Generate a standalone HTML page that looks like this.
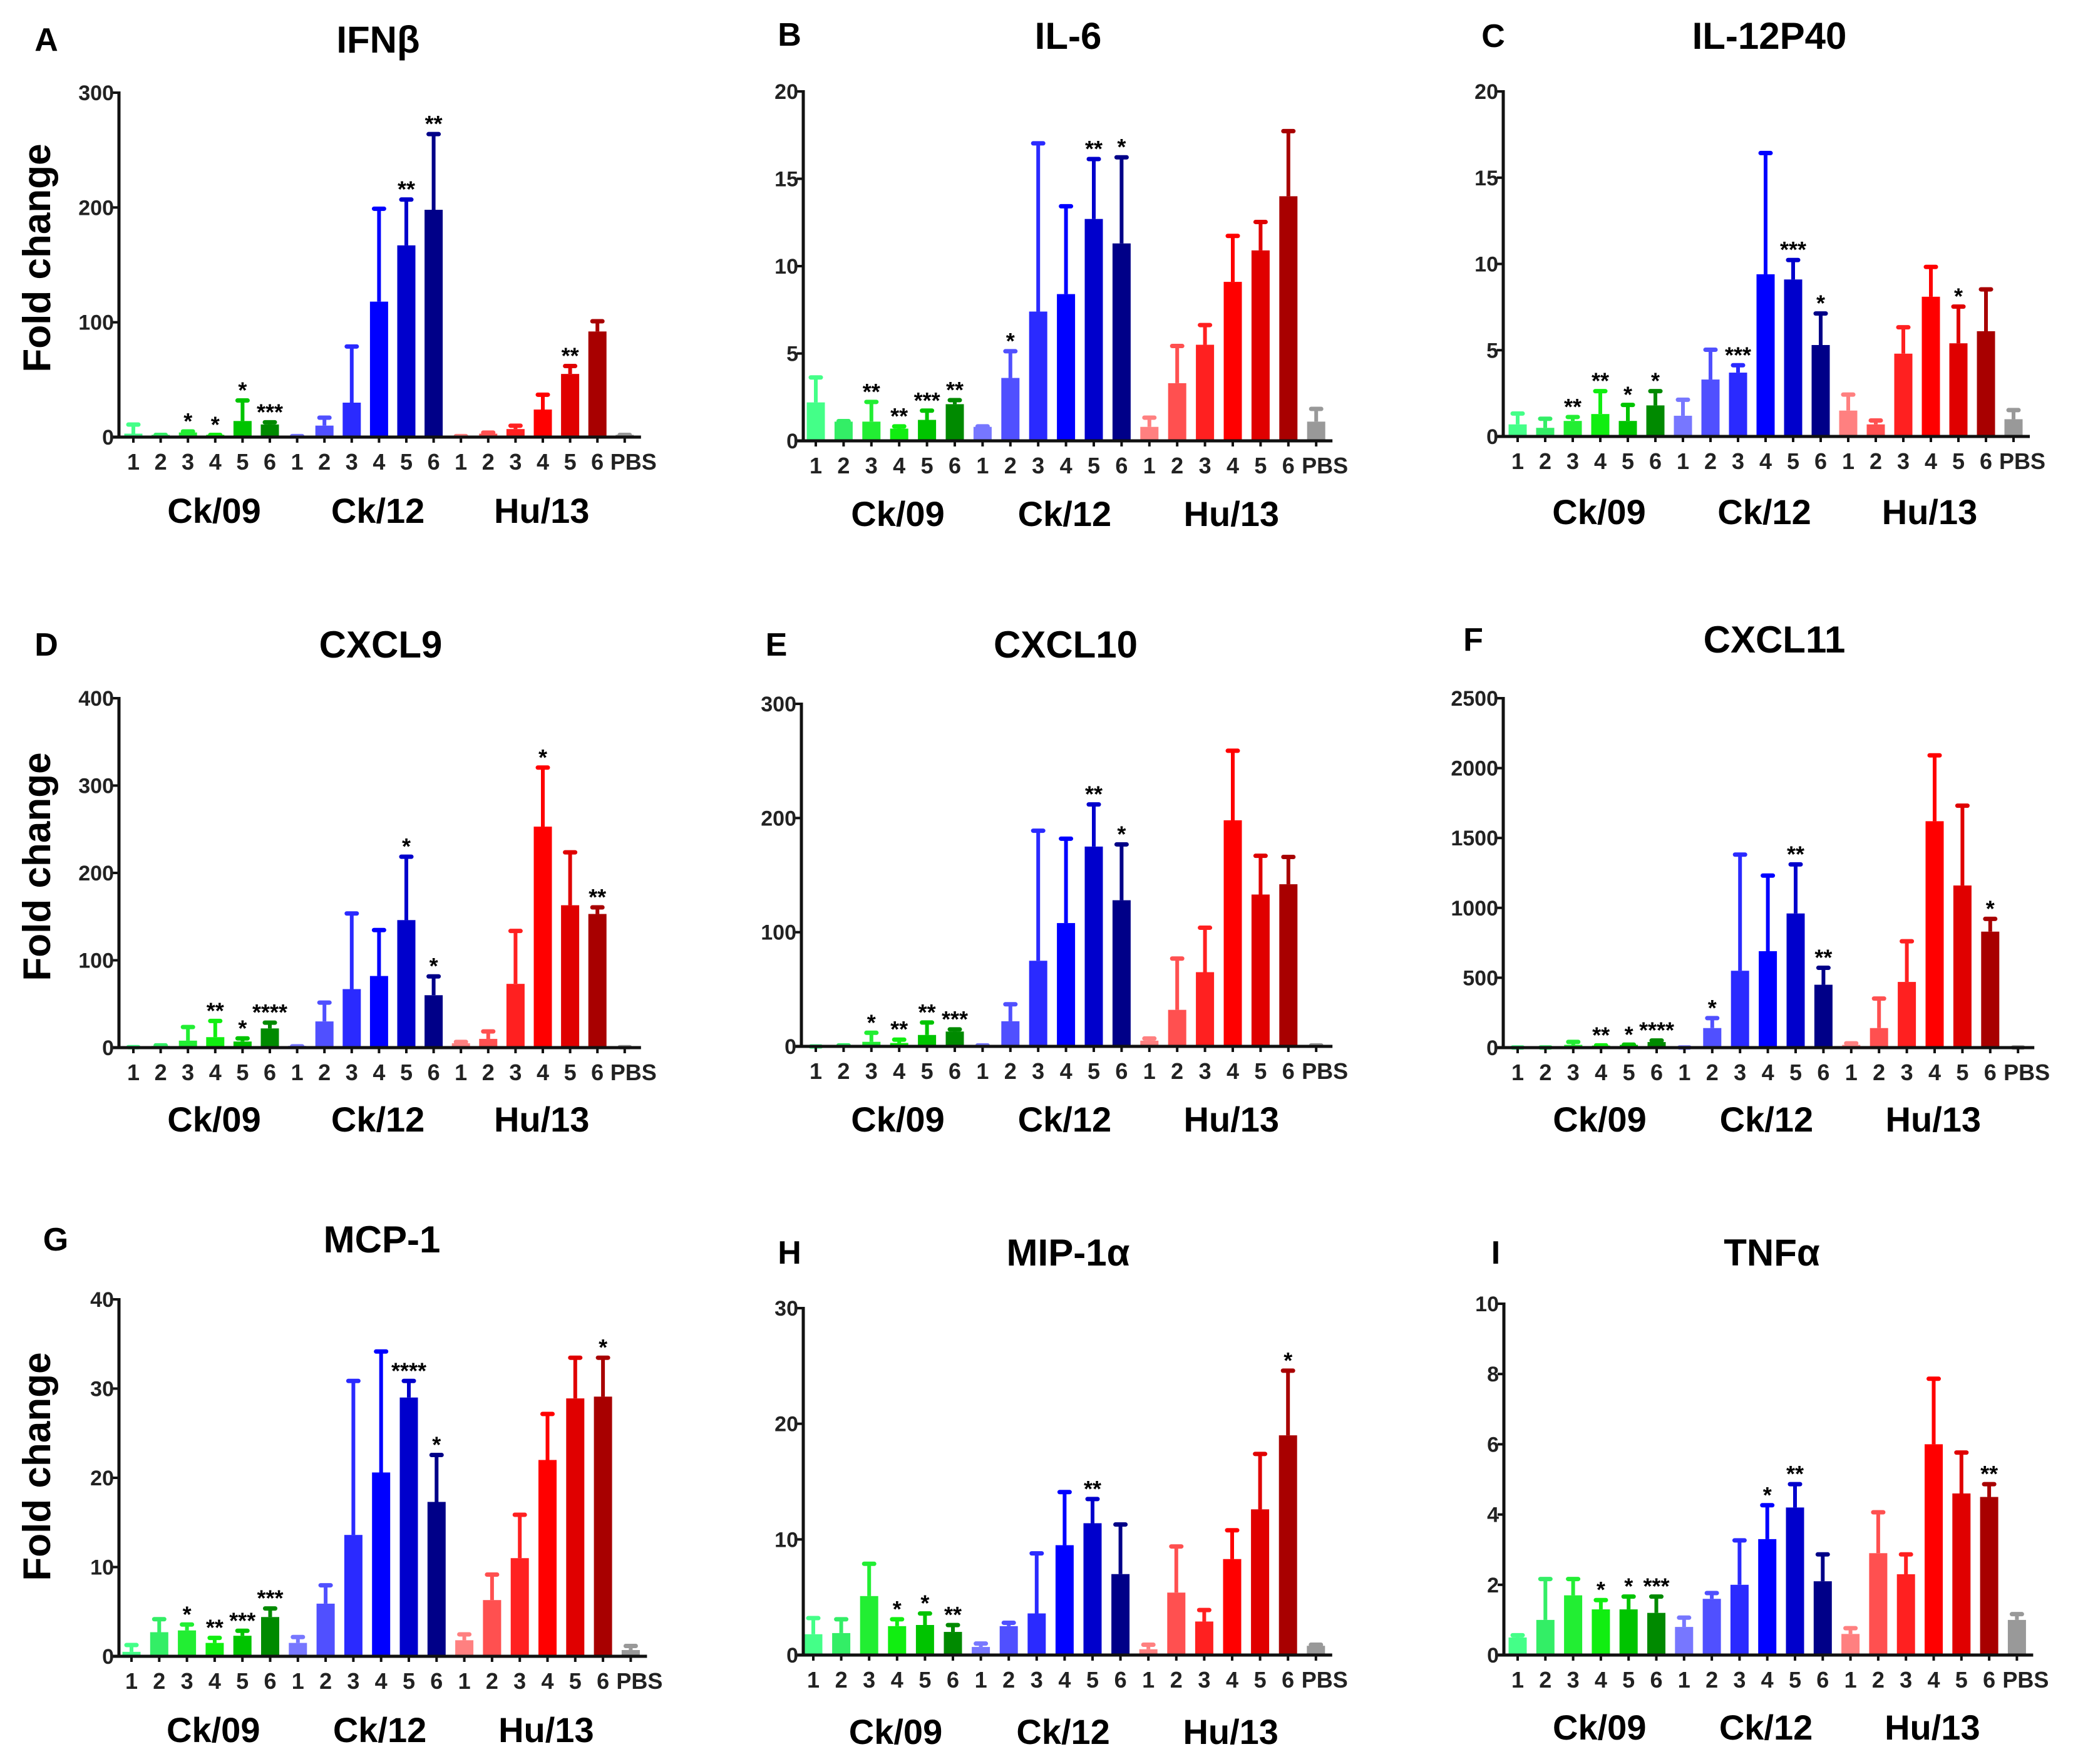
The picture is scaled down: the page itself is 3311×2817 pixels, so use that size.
<!DOCTYPE html>
<html><head><meta charset="utf-8">
<style>
html,body{margin:0;padding:0;background:#fff;}
svg{display:block;font-family:"Liberation Sans",Arial,sans-serif;font-weight:bold;}
</style></head>
<body>
<svg id="fig" width="3311" height="2817" viewBox="0 0 3311 2817" xmlns="http://www.w3.org/2000/svg"></svg>
<script>
// ---- data (19 slots: Ck/09 1-6, Ck/12 1-6, Hu/13 1-6, PBS) ----
const slotLabels = ["1","2","3","4","5","6","1","2","3","4","5","6","1","2","3","4","5","6","PBS"];
const groupLabels = ["Ck/09","Ck/12","Hu/13"];
const barColors = ["#44ff88","#33ee66","#22ee33","#11ee11","#00c400","#008a00",
  "#7777ff","#5050ff","#2a2aff","#0000ff","#0000cc","#000088",
  "#ff8080","#ff5050","#ff2020","#ff0000","#e00000","#a80000","#999999"];

const ifnbMeans = [3,2,4,2,14,11, 1,10,30,118,167,198, 1,3,7,24,55,92, 2];
const ifnbErr   = [12,3,6,3,33,14, 2,18,80,200,208,265, 2,5,11,38,63,102, 3];
const ifnbStars = ["","","*","*","*","***", "","","","","**","**", "","","","","**","", ""];
const ifnbTicks = [0,100,200,300];

const il6Means = [2.2,1.1,1.1,0.7,1.2,2.1, 0.8,3.6,7.4,8.4,12.7,11.3, 0.8,3.3,5.5,9.1,10.9,14, 1.1];
const il6Err   = [3.7,1.2,2.3,0.9,1.8,2.4, 0.9,5.2,17.1,13.5,16.2,16.3, 1.4,5.5,6.7,11.8,12.6,17.8, 1.9];
const il6Stars = ["","","**","**","***","**", "","*","","","**","*", "","","","","","", ""];
const il6Ticks = [0,5,10,15,20];

const il12Means = [0.7,0.5,0.9,1.3,0.9,1.8, 1.2,3.3,3.7,9.4,9.1,5.3, 1.5,0.7,4.8,8.1,5.4,6.1, 1.0];
const il12Err   = [1.4,1.1,1.2,2.7,1.9,2.7, 2.2,5.1,4.2,16.5,10.3,7.2, 2.5,1.0,6.4,9.9,7.6,8.6, 1.6];
const il12Stars = ["","","**","**","*","*", "","","***","","***","*", "","","","","*","", ""];
const il12Ticks = [0,5,10,15,20];

const cxcl9Means = [1,2,8,12,7,22, 2,30,67,82,146,60, 5,10,73,253,163,153, 1];
const cxcl9Err   = [2,4,25,32,12,30, 3,53,155,136,220,83, 8,20,135,322,225,162, 2];
const cxcl9Stars = ["","","","**","*","****", "","","","","*","*", "","","","*","","**", ""];
const cxcl9Ticks = [0,100,200,300,400];

const cxcl10Means = [0.5,0.5,4,3,10,13, 1,22,75,108,175,128, 5,32,65,198,133,142, 1];
const cxcl10Err   = [1,2,13,7,22,16, 2,38,190,183,213,178, 8,78,105,260,168,167, 2];
const cxcl10Stars = ["","","*","**","**","***", "","","","","**","*", "","","","","","", ""];
const cxcl10Ticks = [0,100,200,300];

const cxcl11Means = [5,5,20,15,20,40, 5,140,550,690,960,450, 20,140,470,1620,1160,830, 5];
const cxcl11Err   = [10,10,50,25,30,60, 10,220,1390,1240,1320,580, 40,360,770,2100,1740,930, 10];
const cxcl11Stars = ["","","","**","*","****", "","*","","","**","**", "","","","","","*", ""];
const cxcl11Ticks = [0,500,1000,1500,2000,2500];

const mcp1Means = [0.5,2.7,2.9,1.5,2.3,4.4, 1.5,5.9,13.6,20.6,29,17.3, 1.8,6.3,11,22,28.9,29.1, 0.7];
const mcp1Err   = [1.4,4.3,3.7,2.2,3.0,5.5, 2.3,8.1,31,34.3,31,22.7, 2.6,9.3,16,27.3,33.6,33.6, 1.3];
const mcp1Stars = ["","","*","**","***","***", "","","","","****","*", "","","","","","*", ""];
const mcp1Ticks = [0,10,20,30,40];

const mipMeans = [1.8,1.9,5.1,2.5,2.6,2, 0.7,2.5,3.6,9.5,11.4,7, 0.5,5.4,2.9,8.3,12.6,19, 0.8];
const mipErr   = [3.3,3.2,8,3.2,3.7,2.7, 1.1,2.9,8.9,14.2,13.6,11.4, 1,9.5,4,10.9,17.5,24.7, 1];
const mipStars = ["","","","*","*","**", "","","","","**","", "","","","","","*", ""];
const mipTicks = [0,10,20,30];

const tnfMeans = [0.5,1,1.7,1.3,1.3,1.2, 0.8,1.6,2,3.3,4.2,2.1, 0.6,2.9,2.3,6,4.6,4.5, 1];
const tnfErr   = [0.6,2.2,2.2,1.6,1.7,1.7, 1.1,1.8,3.3,4.3,4.9,2.9, 0.8,4.1,2.9,7.9,5.8,4.9, 1.2];
const tnfStars = ["","","","*","*","***", "","","","*","**","", "","","","","","**", ""];
const tnfTicks = [0,2,4,6,8,10];

// ---- layout ----
const panels = [
 {id:"ifnb",letter:"A",title:"IFNβ",m:ifnbMeans,e:ifnbErr,s:ifnbStars,t:ifnbTicks,ax:190,x0:213,dx:43.6,y0:698,y1:148,lx:74,ly:63,tx:604,ty:63,gy:815,yt:412},
 {id:"il6",letter:"B",title:"IL-6",m:il6Means,e:il6Err,s:il6Stars,t:il6Ticks,ax:1283,x0:1303,dx:44.4,y0:704,y1:146,lx:1261,ly:55,tx:1706,ty:57,gy:820},
 {id:"il12",letter:"C",title:"IL-12P40",m:il12Means,e:il12Err,s:il12Stars,t:il12Ticks,ax:2401,x0:2424,dx:44,y0:697,y1:146,lx:2385,ly:57,tx:2826,ty:57,gy:817},
 {id:"cxcl9",letter:"D",title:"CXCL9",m:cxcl9Means,e:cxcl9Err,s:cxcl9Stars,t:cxcl9Ticks,ax:190,x0:213,dx:43.6,y0:1673,y1:1115,lx:74,ly:1029,tx:608,ty:1029,gy:1787,yt:1384},
 {id:"cxcl10",letter:"E",title:"CXCL10",m:cxcl10Means,e:cxcl10Err,s:cxcl10Stars,t:cxcl10Ticks,ax:1280,x0:1303,dx:44.4,y0:1671,y1:1124,lx:1240,ly:1029,tx:1702,ty:1029,gy:1787},
 {id:"cxcl11",letter:"F",title:"CXCL11",m:cxcl11Means,e:cxcl11Err,s:cxcl11Stars,t:cxcl11Ticks,ax:2401,x0:2424,dx:44.4,y0:1673,y1:1115,lx:2353,ly:1021,tx:2834,ty:1021,gy:1787},
 {id:"mcp1",letter:"G",title:"MCP-1",m:mcp1Means,e:mcp1Err,s:mcp1Stars,t:mcp1Ticks,ax:190,x0:210,dx:44.3,y0:2645,y1:2075,lx:89,ly:1979,tx:610,ty:1979,gy:2762,yt:2342},
 {id:"mip",letter:"H",title:"MIP-1α",m:mipMeans,e:mipErr,s:mipStars,t:mipTicks,ax:1283,x0:1299,dx:44.6,y0:2643,y1:2089,lx:1261,ly:2000,tx:1706,ty:2000,gy:2765},
 {id:"tnf",letter:"I",title:"TNFα",m:tnfMeans,e:tnfErr,s:tnfStars,t:tnfTicks,ax:2402,x0:2424,dx:44.3,y0:2643,y1:2082,lx:2389,ly:2000,tx:2830,ty:2000,gy:2758}
];

const NS="http://www.w3.org/2000/svg";
const svg=document.getElementById("fig");
function mk(tag,attrs,parent){const el=document.createElementNS(NS,tag);for(const k in attrs)el.setAttribute(k,attrs[k]);(parent||svg).appendChild(el);return el;}

panels.forEach(p=>{
  const g=mk("g",{});
  
  
  const maxV=p.t[p.t.length-1];
  const yS=v=>p.y0-(v/maxV)*(p.y0-p.y1);
  const xS=i=>p.x0+i*p.dx;
  const xEnd=xS(18)+26;

  const L=mk("text",{x:p.lx,y:p.ly+18,"font-size":52,"text-anchor":"middle"},g);L.textContent=p.letter;
  
  
  const T=mk("text",{x:p.tx,y:p.ty+21,"font-size":60,"text-anchor":"middle"},g);T.textContent=p.title;
  
  

  if(p.yt){
    const Y=mk("text",{x:0,y:0,"font-size":62,"text-anchor":"middle",transform:`translate(${p.ax-110},${p.yt}) rotate(-90)`},g);Y.textContent="Fold change";
    
    
  }

  for(let i=0;i<19;i++){
    const cx=xS(i), top=yS(p.m[i]), et=yS(p.e[i]);
    const c=barColors[i];
    const er=mk("line",{x1:cx,x2:cx,y1:top,y2:et,stroke:c,"stroke-width":6},g);
    
    
    const cap=mk("line",{x1:cx-8,x2:cx+8,y1:et+2,y2:et+2,stroke:c,"stroke-width":7,"stroke-linecap":"round"},g);
    
    
    const b=mk("rect",{x:cx-14.5,y:top,width:29,height:Math.max(p.y0-top,2),fill:c},g);
    
    
    if(p.s[i]){
      const st=mk("text",{x:cx,y:et-2,"font-size":36,"text-anchor":"middle"},g);st.textContent=p.s[i];
      
      
    }
    const tk=mk("line",{x1:cx,x2:cx,y1:p.y0,y2:p.y0+9,stroke:"#111","stroke-width":4},g);
    
    
    const tl=mk("text",{x:i===18?cx+14:cx,y:p.y0+52,"font-size":36,"text-anchor":"middle",fill:"#222"},g);tl.textContent=slotLabels[i];
    
    
  }

  const xa=mk("line",{x1:p.ax-10,x2:xEnd,y1:p.y0,y2:p.y0,stroke:"#111","stroke-width":5},g);
  
  
  const ya=mk("line",{x1:p.ax,x2:p.ax,y1:p.y1-2,y2:p.y0+2,stroke:"#111","stroke-width":5},g);
  
  
  p.t.forEach(v=>{
    const y=yS(v);
    const t=mk("line",{x1:p.ax-10,x2:p.ax,y1:y,y2:y,stroke:"#111","stroke-width":4},g);
    
    
    const tl=mk("text",{x:p.ax-8,y:y+12,"font-size":34,"text-anchor":"end",fill:"#222"},g);tl.textContent=v;
    
    
  });

  groupLabels.forEach((gl,k)=>{
    const t=mk("text",{x:xS(k*6+2.5)+20,y:p.gy+20,"font-size":56,"text-anchor":"middle"},g);t.textContent=gl;
    
    
  });
});
</script>
</body></html>
